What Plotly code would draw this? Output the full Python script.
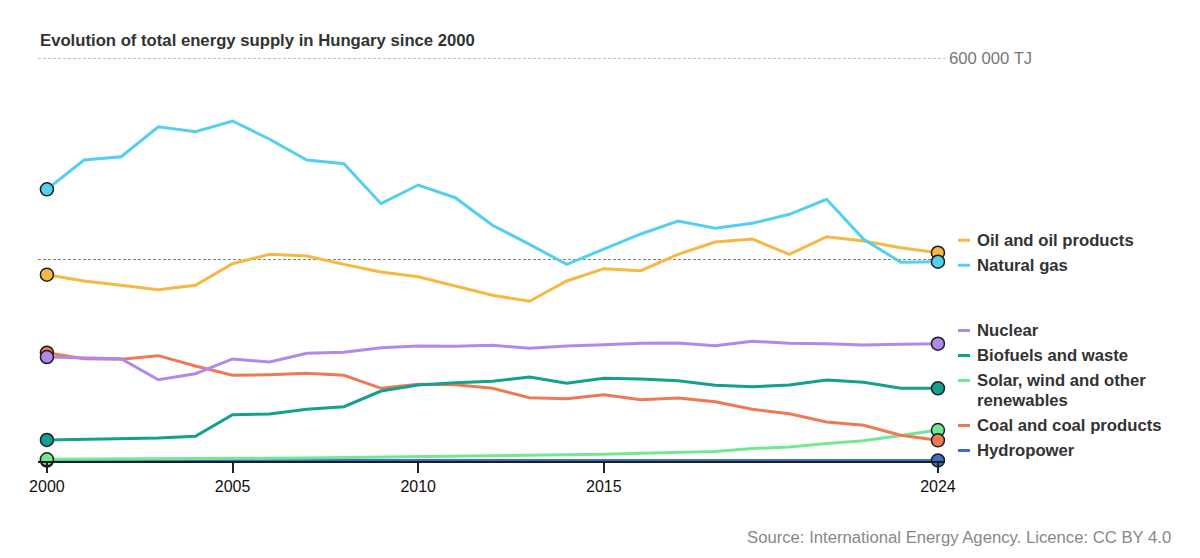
import plotly.graph_objects as go

# ---------------- data (TJ) ----------------
years = list(range(2000, 2025))

oil = [277400, 268000, 261600, 255000, 261600, 293700, 307700, 305200, 292800, 281400,
       274400, 260500, 246700, 237800, 268000, 286300, 283300, 307700, 326000, 330500,
       307700, 333900, 327500, 317600, 310100]
natural_gas = [404500, 448100, 453000, 497700, 490300, 506200, 479000, 448100, 442600, 383100,
               410900, 392000, 350900, 322600, 292800, 315600, 338000, 357300, 346400, 353900,
               367300, 389600, 330100, 295800, 296700]
nuclear = [154800, 153800, 152300, 121000, 130000, 151900, 147400, 160300, 161800, 168700,
           171200, 170700, 172200, 167800, 171200, 173100, 175200, 175700, 171700, 178200,
           175200, 174600, 172700, 173700, 174600]
biofuels = [31300, 32300, 32800, 34200, 36800, 68900, 70000, 77000, 80800, 104200,
            113100, 116600, 118700, 125100, 115700, 123100, 122100, 119500, 112700, 110600,
            113100, 120600, 117200, 108200, 108200]
solar_wind = [2500, 2600, 2700, 2900, 3200, 3600, 4000, 4400, 5000, 5600,
              6200, 6800, 7200, 8000, 8500, 10000, 11500, 13000, 14000, 18500,
              21000, 26000, 30000, 38000, 46000]
coal = [161200, 152300, 151400, 156800, 141400, 127600, 128500, 130600, 127600, 108200,
        114200, 113600, 108200, 94200, 92800, 98700, 91300, 93800, 88300, 77000,
        70400, 58100, 53100, 38300, 30800]
hydropower = [640, 670, 690, 620, 730, 730, 670, 760, 760, 820,
              680, 790, 770, 770, 1090, 830, 940, 780, 800, 790,
              860, 780, 790, 840, 800]

series_names = ["Hydropower", "Solar, wind and other renewables", "Coal and coal products",
                "Biofuels and waste", "Nuclear", "Oil and oil products", "Natural gas"]
series_values = [hydropower, solar_wind, coal, biofuels, nuclear, oil, natural_gas]
series_colors = ["#3d6fc9", "#72e896", "#ef7a52", "#13a08c", "#b189ea", "#f5b843", "#55cff0"]
series_labels = [["Hydropower"], ["Solar, wind and other", "renewables"], ["Coal and coal products"],
                 ["Biofuels and waste"], ["Nuclear"], ["Oil and oil products"], ["Natural gas"]]

x_ticks = [2000, 2005, 2010, 2015, 2024]
grid_values = [300000, 600000]
top_label = "600 000 TJ"
title_text = "Evolution of total energy supply in Hungary since 2000"
source_text = "Source: International Energy Agency. Licence: CC BY 4.0"

# ---------------- layout geometry ----------------
W, H = 1200, 558
ML, MR, MT, MB = 38, 255, 58, 97
PW, PH = W - ML - MR, H - MT - MB
Y_MAX = 600000
FONT = "Liberation Sans, Arial, sans-serif"
TXT = 16.7


def to_px(v):
    return MT + (1 - v / Y_MAX) * PH


def to_val(py):
    return (1 - (py - MT) / PH) * Y_MAX


def px_to_paper_x(px):
    return (px - ML) / PW


def px_to_paper_y(py):
    return 1 - (py - MT) / PH


fig = go.Figure()

# lines
for name, vals, col in zip(series_names, series_values, series_colors):
    fig.add_trace(go.Scatter(x=years, y=vals, mode="lines", name=name,
                             line=dict(color=col, width=3), hoverinfo="skip",
                             cliponaxis=False, showlegend=False))
# end markers
for name, vals, col in zip(series_names, series_values, series_colors):
    fig.add_trace(go.Scatter(x=[years[0], years[-1]], y=[vals[0], vals[-1]], mode="markers",
                             marker=dict(color=col, size=13, line=dict(color="#1e1e1e", width=1.5)),
                             hoverinfo="skip", cliponaxis=False, showlegend=False))

# ---------------- label placement (dodge) ----------------
LINE_H = 25
LINE_STEP = 20
items = []
for lines, vals, col in zip(series_labels, series_values, series_colors):
    h = LINE_H + (len(lines) - 1) * LINE_STEP
    items.append(dict(lines=lines, color=col, desired=to_px(vals[-1]) - 4.5, h=h))
items.sort(key=lambda d: d["desired"])

BOTTOM = 463
groups = [[it] for it in items]


def place(group):
    offs, o = [], 0
    for i, it in enumerate(group):
        if i > 0:
            o += (group[i - 1]["h"] + it["h"]) / 2
        offs.append(o)
    anchor = sum(it["desired"] - of for it, of in zip(group, offs)) / len(group)
    last_bottom = anchor + offs[-1] + group[-1]["h"] / 2
    if last_bottom > BOTTOM:
        anchor -= last_bottom - BOTTOM
    for it, of in zip(group, offs):
        it["pos"] = anchor + of


for g in groups:
    place(g)
changed = True
while changed:
    changed = False
    for i in range(len(groups) - 1):
        a, b = groups[i], groups[i + 1]
        if b[0]["pos"] - a[-1]["pos"] < (a[-1]["h"] + b[0]["h"]) / 2 - 1e-6:
            merged = a + b
            place(merged)
            groups[i:i + 2] = [merged]
            changed = True
            break

annotations = []
shapes = []
for it in items:
    first_line = it["pos"] - (len(it["lines"]) - 1) * LINE_STEP / 2
    shapes.append(dict(type="line", xref="paper", yref="y",
                       x0=px_to_paper_x(958), x1=px_to_paper_x(970),
                       y0=to_val(first_line), y1=to_val(first_line),
                       line=dict(color=it["color"], width=3)))
    for k, line in enumerate(it["lines"]):
        annotations.append(dict(xref="paper", yref="y", x=px_to_paper_x(975),
                                y=to_val(first_line + k * LINE_STEP),
                                text="<b>" + line + "</b>", showarrow=False,
                                xanchor="left", yanchor="middle", align="left",
                                font=dict(family=FONT, size=TXT, color="#333333")))

# gridlines
for gv in grid_values:
    shapes.append(dict(type="line", xref="paper", yref="y", x0=0, x1=1, y0=gv, y1=gv,
                       line=dict(color="#808080", width=1, dash="3px,2px"), layer="below"))

annotations.append(dict(xref="paper", yref="y", x=px_to_paper_x(947), y=grid_values[-1],
                        text=top_label, showarrow=False, xanchor="left", yanchor="middle",
                        font=dict(family=FONT, size=TXT, color="#777777")))
annotations.append(dict(xref="paper", yref="paper", x=0, y=px_to_paper_y(40),
                        text="<b>" + title_text + "</b>", showarrow=False,
                        xanchor="left", yanchor="middle",
                        font=dict(family=FONT, size=TXT, color="#333333")))
annotations.append(dict(xref="paper", yref="paper", x=px_to_paper_x(1173), y=px_to_paper_y(537),
                        text=source_text, showarrow=False, xanchor="right", yanchor="middle",
                        font=dict(family=FONT, size=TXT, color="#888888")))

fig.update_layout(
    width=W, height=H,
    margin=dict(l=ML, r=MR, t=MT, b=MB, pad=0),
    paper_bgcolor="white", plot_bgcolor="white",
    showlegend=False,
    xaxis=dict(range=[1999.76, 2024.19], tickvals=x_ticks, ticktext=[str(t) for t in x_ticks],
               ticks="outside", ticklen=10, tickwidth=1.5, tickcolor="#222222",
               showline=True, linecolor="#1e1e1e", linewidth=2,
               showgrid=False, zeroline=False, fixedrange=True,
               tickfont=dict(family=FONT, size=16, color="#111111")),
    yaxis=dict(range=[0, Y_MAX], showticklabels=False, showgrid=False, zeroline=False,
               showline=False, ticks="", fixedrange=True),
    annotations=annotations,
    shapes=shapes,
)

fig.write_html("out.html", config={"displayModeBar": False})
